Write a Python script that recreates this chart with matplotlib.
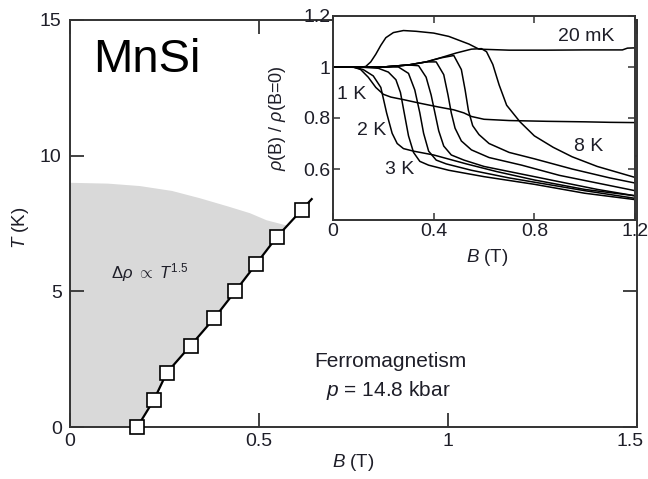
import matplotlib
matplotlib.use("Agg")
import matplotlib.pyplot as plt
import matplotlib.transforms as mtransforms
import numpy as np

plt.rcParams['font.family'] = ['Liberation Sans', 'DejaVu Sans']
plt.rcParams['mathtext.fontset'] = 'custom'
plt.rcParams['mathtext.rm'] = 'Liberation Sans'
plt.rcParams['mathtext.it'] = 'Liberation Sans:italic'
plt.rcParams['mathtext.bf'] = 'Liberation Sans:bold'

# ---------------- main phase diagram data ----------------
B_sq = [0.178, 0.222, 0.256, 0.319, 0.381, 0.437, 0.492, 0.547, 0.613]
T_sq = [0, 1, 2, 3, 4, 5, 6, 7, 8]

# upper boundary of grey region (T ~ 9 K at B = 0)
B_top = [0.0, 0.10, 0.185, 0.27, 0.344, 0.42, 0.476, 0.52, 0.575]
T_top = [9.0, 8.97, 8.88, 8.70, 8.43, 8.12, 7.88, 7.62, 7.42]

main_xticks = [0, 0.5, 1, 1.5]
main_xticklabels = ['0', '0.5', '1', '1.5']
main_yticks = [0, 5, 10, 15]
main_yticklabels = ['0', '5', '10', '15']

# ---------------- inset rho(B)/rho(0) curves ----------------
B_20mK = [0, 0.05, 0.10, 0.13, 0.15, 0.17, 0.19, 0.21, 0.24, 0.28, 0.33, 0.40, 0.46, 0.50, 0.54, 0.58, 0.70, 0.85, 1.00, 1.15, 1.17, 1.20]
R_20mK = [1.0, 1.0, 0.998, 1.002, 1.02, 1.05, 1.085, 1.115, 1.135, 1.143, 1.14, 1.133, 1.12, 1.105, 1.09, 1.07, 1.066, 1.066, 1.067, 1.067, 1.074, 1.075]

B_1K = [0, 0.08, 0.11, 0.14, 0.17, 0.20, 0.23, 0.28, 0.35, 0.42, 0.48, 0.52, 0.55, 0.60, 0.70, 0.85, 1.00, 1.10, 1.20]
R_1K = [1.0, 1.0, 0.99, 0.96, 0.92, 0.893, 0.882, 0.872, 0.857, 0.843, 0.832, 0.82, 0.806, 0.795, 0.79, 0.787, 0.785, 0.783, 0.782]

B_2K = [0, 0.08, 0.12, 0.16, 0.19, 0.213, 0.235, 0.255, 0.28, 0.32, 0.40, 0.53, 0.65, 0.80, 1.00, 1.20]
R_2K = [1.0, 1.0, 0.99, 0.965, 0.92, 0.82, 0.74, 0.70, 0.68, 0.67, 0.655, 0.62, 0.59, 0.557, 0.52, 0.495]

B_3K = [0, 0.10, 0.18, 0.22, 0.25, 0.268, 0.283, 0.30, 0.32, 0.345, 0.38, 0.46, 0.60, 0.80, 1.00, 1.20]
R_3K = [1.0, 1.0, 0.995, 0.98, 0.95, 0.90, 0.82, 0.73, 0.665, 0.63, 0.615, 0.595, 0.57, 0.54, 0.505, 0.48]

B_4K = [0, 0.10, 0.20, 0.26, 0.30, 0.325, 0.345, 0.36, 0.38, 0.41, 0.45, 0.55, 0.70, 0.85, 1.00, 1.20]
R_4K = [1.0, 1.0, 1.0, 1.0, 0.975, 0.91, 0.82, 0.74, 0.67, 0.635, 0.62, 0.595, 0.565, 0.54, 0.515, 0.485]

B_5K = [0, 0.10, 0.20, 0.30, 0.34, 0.37, 0.39, 0.405, 0.42, 0.44, 0.47, 0.52, 0.60, 0.75, 0.90, 1.05, 1.20]
R_5K = [1.0, 1.0, 1.0, 1.008, 1.005, 0.96, 0.89, 0.82, 0.75, 0.69, 0.655, 0.635, 0.61, 0.58, 0.55, 0.52, 0.495]

B_6K = [0, 0.10, 0.20, 0.30, 0.37, 0.41, 0.44, 0.457, 0.47, 0.485, 0.51, 0.55, 0.62, 0.75, 0.90, 1.05, 1.20]
R_6K = [1.0, 1.0, 1.0, 1.008, 1.02, 1.02, 0.97, 0.89, 0.82, 0.76, 0.71, 0.675, 0.645, 0.615, 0.575, 0.545, 0.515]

B_7K = [0, 0.10, 0.20, 0.30, 0.37, 0.43, 0.48, 0.51, 0.525, 0.538, 0.555, 0.58, 0.62, 0.70, 0.80, 0.95, 1.10, 1.20]
R_7K = [1.0, 1.0, 1.0, 1.008, 1.02, 1.036, 1.045, 0.99, 0.91, 0.83, 0.77, 0.735, 0.70, 0.665, 0.64, 0.60, 0.565, 0.545]

B_8K = [0, 0.10, 0.20, 0.30, 0.37, 0.43, 0.49, 0.55, 0.59, 0.61, 0.635, 0.66, 0.69, 0.743, 0.80, 0.875, 0.95, 1.05, 1.20]
R_8K = [1.0, 1.0, 1.0, 1.008, 1.02, 1.037, 1.055, 1.07, 1.072, 1.06, 1.01, 0.93, 0.85, 0.785, 0.73, 0.685, 0.648, 0.61, 0.567]

inset_curves = [(B_20mK, R_20mK), (B_1K, R_1K), (B_2K, R_2K), (B_3K, R_3K),
                (B_4K, R_4K), (B_5K, R_5K), (B_6K, R_6K), (B_7K, R_7K), (B_8K, R_8K)]

inset_labels = ['20 mK', '1 K', '2 K', '3 K', '8 K']
inset_label_B = [1.005, 0.075, 0.155, 0.266, 1.017]
inset_label_R = [1.12, 0.894, 0.75, 0.60, 0.69]

inset_xticks = [0, 0.4, 0.8, 1.2]
inset_xticklabels = ['0', '0.4', '0.8', '1.2']
inset_yticks = [0.6, 0.8, 1.0, 1.2]
inset_yticklabels = ['0.6', '0.8', '1', '1.2']

TXT = '#1e1e28'
SPINE = '#333333'

fig = plt.figure(figsize=(6.48, 4.79), dpi=100)
ax = fig.add_axes([70/648, 52/479, 567/648, 407/479])

# grey region
poly_B = [0.0] + [b for b, t in zip(B_sq, T_sq) if t <= 7] + B_top[::-1]
poly_T = [0.0] + [t for b, t in zip(B_sq, T_sq) if t <= 7] + T_top[::-1]
ax.fill(poly_B, poly_T, color='#d9d9d9', lw=0, zorder=1)

# line through the squares, extended slightly past the last point
ext_B = B_sq[-1] + 0.4 * (B_sq[-1] - B_sq[-2])
ext_T = T_sq[-1] + 0.4 * (T_sq[-1] - T_sq[-2])
ax.plot(B_sq + [ext_B], T_sq + [ext_T], color='black', lw=1.6, zorder=3)
ax.plot(B_sq, T_sq, ls='none', marker='s', ms=9.5, mfc='white', mec='black',
        mew=1.2, zorder=4, clip_on=False)

ax.set_xlim(0, 1.5)
ax.set_ylim(0, 15)
ax.set_xticks(main_xticks)
ax.set_xticklabels(main_xticklabels)
ax.set_yticks(main_yticks)
ax.set_yticklabels(main_yticklabels)
ax.tick_params(direction='in', length=10, width=1.3, color=SPINE, labelsize=14,
               labelcolor=TXT, top=True, right=True, pad=4)
ax.tick_params(axis='y', pad=6)
for s in ax.spines.values():
    s.set_color(SPINE)
    s.set_linewidth(1.4)

# keep the last x tick label ("1.5") inside the figure, as in the reference
last_lab = ax.get_xticklabels()[-1]
last_lab.set_transform(last_lab.get_transform() +
                       mtransforms.ScaledTranslation(-5/72, 0, fig.dpi_scale_trans))

ax.set_xlabel(r'$B$ (T)', fontsize=13.5, color=TXT, va='center')
ax.xaxis.set_label_coords(0.5, -0.088)
ax.set_ylabel(r'$T$ (K)', fontsize=13.5, color=TXT, va='center', ha='center')
ax.yaxis.set_label_coords(-0.088, 0.49)

ax.text(0.204, 13.53, 'MnSi', fontsize=34, color='black', ha='center', va='center')
ax.text(0.212, 5.71, r'$\Delta\rho$ $\propto$ $T^{\mathrm{1.5}}$', fontsize=12,
        color=TXT, ha='center', va='center')
ax.text(0.847, 2.4, 'Ferromagnetism', fontsize=15, color=TXT, ha='center', va='center')
ax.text(0.841, 1.36, r'$p$ = 14.8 kbar', fontsize=15, color=TXT, ha='center', va='center')

# ---------------- inset ----------------
ins = fig.add_axes([333/648, (479-220)/479, 302/648, 204/479])
ins.set_facecolor('white')
for Bc, Rc in inset_curves:
    ins.plot(Bc, Rc, color='black', lw=1.1)
for lab, xb, yr in zip(inset_labels, inset_label_B, inset_label_R):
    ins.text(xb, yr, lab, fontsize=14, color=TXT, ha='center', va='center')

ins.set_xlim(0, 1.2)
ins.set_ylim(0.4, 1.2)
ins.set_xticks(inset_xticks)
ins.set_xticklabels(inset_xticklabels)
ins.set_yticks(inset_yticks)
ins.set_yticklabels(inset_yticklabels)
ins.tick_params(direction='in', length=5, width=1.1, color=SPINE, labelsize=14,
                labelcolor=TXT, top=True, right=True, pad=2)
for s in ins.spines.values():
    s.set_color(SPINE)
    s.set_linewidth(1.4)
ins.set_xlabel(r'$B$ (T)', fontsize=13.5, color=TXT, va='center')
ins.xaxis.set_label_coords(0.51, -0.186)
ins.set_ylabel(r'$\rho$(B) / $\rho$(B=0)', fontsize=13, color=TXT, va='center', ha='center')
ins.yaxis.set_label_coords(-0.185, 0.5)

fig.savefig('out.png', dpi=100)
